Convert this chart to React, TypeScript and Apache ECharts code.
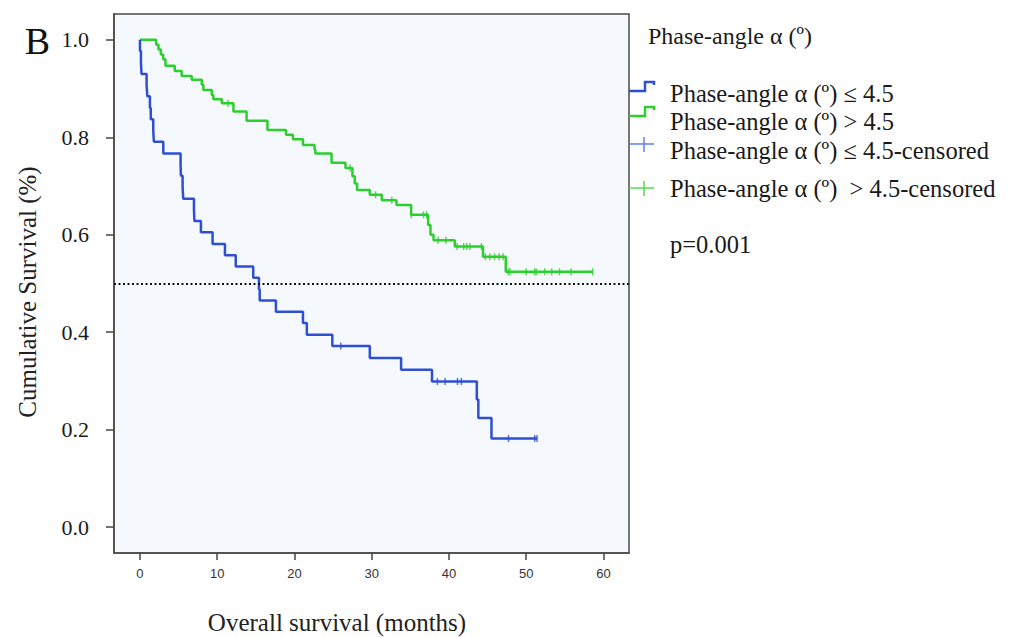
import React, { useEffect, useRef } from "react";
import * as echarts from "echarts";

// ---- Data ----
const xTicks = [0, 10, 20, 30, 40, 50, 60];
const yTicks = [0, 0.2, 0.4, 0.6, 0.8, 1.0];

// Phase-angle <= 4.5 (event times in months, survival after each event)
const blueTimes = [0, 0, 0.13, 0.2, 0.86, 0.95, 1.29, 1.4, 1.72, 1.8, 3.02, 5.26, 5.3, 5.52, 5.6, 6.99, 7.05, 7.89, 9.4, 11.0, 12.4, 14.66, 15.4, 15.5, 17.6, 21.1, 21.6, 24.9, 29.75, 33.8, 37.8, 43.6, 43.8, 45.5];
const blueSurv = [1.0, 0.977, 0.953, 0.93, 0.907, 0.884, 0.86, 0.837, 0.814, 0.791, 0.767, 0.744, 0.721, 0.698, 0.674, 0.651, 0.628, 0.605, 0.581, 0.558, 0.535, 0.512, 0.488, 0.465, 0.442, 0.419, 0.395, 0.372, 0.347, 0.323, 0.299, 0.262, 0.224, 0.182];
const blueEnd = 51.4;
const blueCensor = [26.0, 38.5, 39.5, 41.1, 41.6, 47.7, 51.1, 51.4];

// Phase-angle > 4.5
const greenTimes = [0, 2.1, 2.4, 2.7, 3.0, 3.3, 4.5, 5.4, 6.7, 8.0, 8.2, 9.3, 9.5, 10.6, 12.1, 13.8, 16.5, 18.9, 19.8, 21.1, 22.6, 22.7, 24.8, 26.6, 27.5, 27.8, 28.1, 29.75, 31.3, 33.2, 35.1, 37.3, 37.6, 38.0, 40.75, 44.4, 47.35];
const greenSurv = [1.0, 0.99, 0.98, 0.97, 0.96, 0.947, 0.936, 0.926, 0.918, 0.908, 0.897, 0.887, 0.878, 0.87, 0.853, 0.834, 0.815, 0.805, 0.796, 0.784, 0.775, 0.767, 0.748, 0.737, 0.72, 0.705, 0.692, 0.682, 0.671, 0.661, 0.641, 0.62, 0.6, 0.589, 0.576, 0.555, 0.524];
const greenEnd = 58.6;
const greenCensor = [11.4, 27.2, 30.5, 32.6, 35.1, 36.7, 37.1, 38.6, 39.6, 41.05, 41.9, 42.3, 42.7, 44.2, 44.7, 45.3, 45.9, 46.5, 47.0, 47.65, 47.9, 50.0, 51.1, 51.3, 52.4, 53.3, 54.3, 55.8, 58.6];

const legendTitle = "Phase-angle α (º)";
const legendLabels = [
  "Phase-angle α (º) ≤ 4.5",
  "Phase-angle α (º) > 4.5",
  "Phase-angle α (º) ≤ 4.5-censored",
  "Phase-angle α (º)  > 4.5-censored",
];
const pText = "p=0.001";
const xTitle = "Overall survival (months)";
const yTitle = "Cumulative Survival (%)";

const BLUE = "#2f4fd2";
const GREEN = "#2ccf2c";
const BLUE_LIGHT = "#5f7fe8";
const GREEN_LIGHT = "#55dd55";
const SERIF = '"Liberation Serif", "DejaVu Serif", serif';

function stepData(times: number[], surv: number[], end: number) {
  const d = times.map((t, i) => [t, surv[i]]);
  d.push([end, surv[surv.length - 1]]);
  return d;
}

function survAt(times: number[], surv: number[], t: number) {
  let v = surv[0];
  for (let i = 0; i < times.length; i++) {
    if (times[i] <= t) v = surv[i];
  }
  return v;
}

export default function App() {
  const ref = useRef<HTMLDivElement>(null);

  useEffect(() => {
    if (!ref.current) return;
    const chart = echarts.init(ref.current, undefined, { renderer: "svg" });

    const legendX = 670;
    const itemY = [93, 121, 150, 188];

    chart.setOption({
      animation: false,
      grid: {
        left: 114,
        right: 384,
        top: 14,
        bottom: 84,
        show: true,
        backgroundColor: "#f5f9fe",
        borderColor: "#4a4a4a",
        borderWidth: 1.5,
      },
      xAxis: {
        type: "value",
        min: -3.36,
        max: 63.3,
        axisLine: { show: true, onZero: false, lineStyle: { color: "#4a4a4a", width: 1.5 } },
        axisTick: { show: true, customValues: xTicks, length: 7, lineStyle: { color: "#444", width: 1.5 } },
        axisLabel: {
          customValues: xTicks,
          fontFamily: '"Liberation Sans", Arial, sans-serif',
          fontSize: 13,
          color: "#333",
          margin: 14,
        },
        splitLine: { show: false },
      },
      yAxis: {
        type: "value",
        min: -0.053,
        max: 1.053,
        axisLine: { show: true, onZero: false, lineStyle: { color: "#4a4a4a", width: 1.5 } },
        axisTick: { show: true, customValues: yTicks, length: 8, lineStyle: { color: "#444", width: 1.5 } },
        axisLabel: {
          customValues: yTicks,
          formatter: (v: number) => v.toFixed(1),
          fontFamily: SERIF,
          fontSize: 22,
          color: "#1a1a1a",
          margin: 25,
        },
        splitLine: { show: false },
      },
      series: [
        {
          type: "line",
          name: legendLabels[0],
          step: "end",
          data: stepData(blueTimes, blueSurv, blueEnd),
          showSymbol: false,
          lineStyle: { color: BLUE, width: 2.5 },
          z: 3,
          markLine: {
            silent: true,
            symbol: ["none", "none"],
            label: { show: false },
            lineStyle: { color: "#111", type: [2, 2.5], width: 2 },
            data: [{ yAxis: 0.5 }],
          },
        },
        {
          type: "line",
          name: legendLabels[1],
          step: "end",
          data: stepData(greenTimes, greenSurv, greenEnd),
          showSymbol: false,
          lineStyle: { color: GREEN, width: 2.5 },
          z: 2,
        },
        {
          type: "scatter",
          name: legendLabels[2],
          data: blueCensor.map((t) => [t, survAt(blueTimes, blueSurv, t)]),
          symbol: "rect",
          symbolSize: [1.5, 7],
          itemStyle: { color: BLUE },
          z: 4,
        },
        {
          type: "scatter",
          name: legendLabels[3],
          data: greenCensor.map((t) => [t, survAt(greenTimes, greenSurv, t)]),
          symbol: "rect",
          symbolSize: [1.5, 7],
          itemStyle: { color: GREEN },
          z: 4,
        },
      ],
      graphic: [
        {
          type: "text",
          x: 37.5,
          y: 41,
          style: { text: "B", font: `38px ${SERIF}`, fill: "#111", align: "center", verticalAlign: "middle" },
        },
        {
          type: "text",
          x: 27,
          y: 292,
          rotation: Math.PI / 2,
          style: { text: yTitle, font: `25px ${SERIF}`, fill: "#222", align: "center", verticalAlign: "middle" },
        },
        {
          type: "text",
          x: 337,
          y: 622,
          style: { text: xTitle, font: `25px ${SERIF}`, fill: "#222", align: "center", verticalAlign: "middle" },
        },
        {
          type: "text",
          x: 648,
          y: 36,
          style: { text: legendTitle, font: `24px ${SERIF}`, fill: "#1a1a1a", align: "left", verticalAlign: "middle" },
        },
        ...legendLabels.map((t, i) => ({
          type: "text",
          x: legendX,
          y: itemY[i],
          style: { text: t, font: `24.5px ${SERIF}`, fill: "#1a1a1a", align: "left", verticalAlign: "middle" },
        })),
        {
          type: "text",
          x: legendX,
          y: 244,
          style: { text: pText, font: `24.5px ${SERIF}`, fill: "#1a1a1a", align: "left", verticalAlign: "middle" },
        },
        {
          type: "polyline",
          shape: { points: [[629, 91], [645, 91], [645, 82], [654, 82], [654, 85]] },
          style: { stroke: BLUE, lineWidth: 2.5, fill: null },
        },
        {
          type: "polyline",
          shape: { points: [[629, 116], [645, 116], [645, 107], [654, 107], [654, 110]] },
          style: { stroke: GREEN, lineWidth: 2.5, fill: null },
        },
        {
          type: "line",
          shape: { x1: 629, y1: 144, x2: 654, y2: 144 },
          style: { stroke: BLUE_LIGHT, lineWidth: 1.5 },
        },
        {
          type: "line",
          shape: { x1: 644, y1: 137, x2: 644, y2: 152 },
          style: { stroke: BLUE_LIGHT, lineWidth: 1.5 },
        },
        {
          type: "line",
          shape: { x1: 629, y1: 188, x2: 654, y2: 188 },
          style: { stroke: GREEN_LIGHT, lineWidth: 1.5 },
        },
        {
          type: "line",
          shape: { x1: 644, y1: 181, x2: 644, y2: 196 },
          style: { stroke: GREEN_LIGHT, lineWidth: 1.5 },
        },
      ],
    });

    return () => chart.dispose();
  }, []);

  return (
    <div
      ref={ref}
      style={{ position: "fixed", left: 0, top: 0, width: 1013, height: 637, background: "#fff" }}
    />
  );
}
